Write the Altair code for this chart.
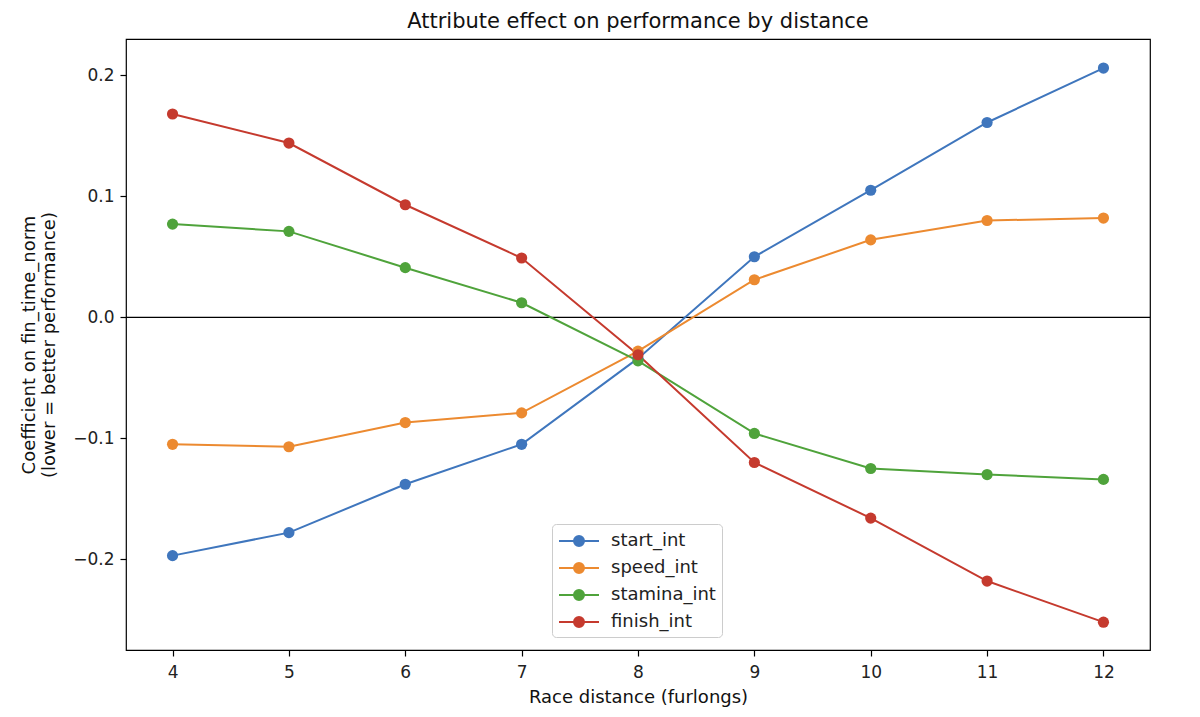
import altair as alt
import pandas as pd

distances = [4, 5, 6, 7, 8, 9, 10, 11, 12]
start_int = [-0.197, -0.178, -0.138, -0.105, -0.034, 0.050, 0.105, 0.161, 0.206]
speed_int = [-0.105, -0.107, -0.087, -0.079, -0.028, 0.031, 0.064, 0.080, 0.082]
stamina_int = [0.077, 0.071, 0.041, 0.012, -0.036, -0.096, -0.125, -0.130, -0.134]
finish_int = [0.168, 0.144, 0.093, 0.049, -0.031, -0.120, -0.166, -0.218, -0.252]

series_names = ["start_int", "speed_int", "stamina_int", "finish_int"]
series_values = [start_int, speed_int, stamina_int, finish_int]
colors = ["#3f76bd", "#ec8a30", "#4fa33b", "#c53a2e"]

rows = []
for name, vals in zip(series_names, series_values):
    for d, v in zip(distances, vals):
        rows.append({"distance": d, "coef": v, "series": name})
df = pd.DataFrame(rows)

FONT = "DejaVu Sans"

legend_symbol = (
    "M -1,0 L 3,0 "
    "M 0.5,0 A 0.5,0.5 0 1,1 1.5,0 A 0.5,0.5 0 1,1 0.5,0 Z"
)

x_enc = alt.X(
    "distance:Q",
    scale=alt.Scale(domain=[3.6, 12.4], nice=False, zero=False),
    axis=alt.Axis(values=distances, format="d", title="Race distance (furlongs)",
                  labelPadding=8, titlePadding=8),
)
y_enc = alt.Y(
    "coef:Q",
    scale=alt.Scale(domain=[-0.275, 0.230], nice=False, zero=False),
    axis=alt.Axis(
        values=[-0.2, -0.1, 0.0, 0.1, 0.2],
        format=".1f",
        title=["Coefficient on fin_time_norm", "(lower = better performance)"],
        titleLineHeight=20,
        labelPadding=6,
        titlePadding=14,
    ),
)
color_enc = alt.Color(
    "series:N",
    scale=alt.Scale(domain=series_names, range=colors),
    legend=alt.Legend(
        title=None,
        orient="none",
        legendX=426,
        legendY=485,
        symbolType=legend_symbol,
        symbolSize=400,
        symbolStrokeWidth=2,
        symbolFillColor=None,
        labelOffset=31,
        labelFontSize=18,
        labelFont=FONT,
        labelColor="#222222",
        rowPadding=7,
        padding=6,
        strokeColor="#cccccc",
        fillColor="white",
        cornerRadius=4,
    ),
)

base = alt.Chart(df)

zero_line = alt.Chart(pd.DataFrame({"y": [0.0]})).mark_rule(
    color="black", strokeWidth=1.2
).encode(y=alt.Y("y:Q", scale=alt.Scale(domain=[-0.275, 0.230], nice=False)))

lines = base.mark_line(strokeWidth=2).encode(
    x=x_enc, y=y_enc, color=color_enc, detail="series:N"
)
points = base.mark_circle(size=125, opacity=1).encode(
    x=x_enc,
    y=y_enc,
    color=alt.Color("series:N", scale=alt.Scale(domain=series_names, range=colors), legend=None),
)

chart = (
    alt.layer(zero_line, lines, points)
    .properties(
        width=1024,
        height=611,
        title=alt.TitleParams(
            "Attribute effect on performance by distance",
            font=FONT,
            fontSize=21,
            fontWeight="normal",
            color="#111111",
            anchor="middle",
            offset=7,
        ),
        autosize=alt.AutoSizeParams(type="none"),
        padding={"left": 118, "top": 31, "right": 34, "bottom": 59},
    )
    .configure_view(stroke="black", strokeWidth=1.2)
    .configure_axis(
        grid=False,
        domain=False,
        ticks=True,
        tickColor="black",
        tickSize=6,
        tickWidth=1.2,
        labelFont=FONT,
        labelFontSize=17,
        labelColor="#222222",
        titleFont=FONT,
        titleFontSize=18,
        titleFontWeight="normal",
        titleColor="#111111",
    )
)

chart.save("out.html", embed_options={"renderer": "svg", "actions": False})
